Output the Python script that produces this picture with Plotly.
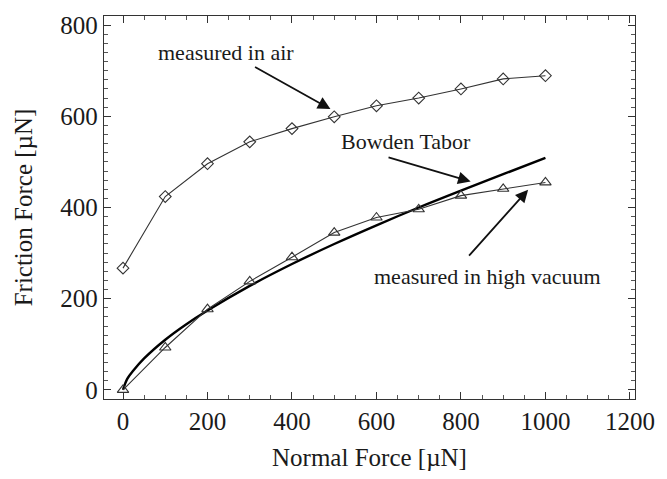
import plotly.graph_objects as go

# Normal force steps [µN]
normal_force = [0, 100, 200, 300, 400, 500, 600, 700, 800, 900, 1000]

# Friction force measured in air [µN]
friction_air = [267, 424, 496, 544, 573, 599, 623, 640, 660, 682, 689]

# Friction force measured in high vacuum [µN]
friction_vacuum = [0, 93, 177, 238, 291, 345, 378, 396, 426, 441, 455]

# Bowden–Tabor prediction [µN]
bt_force = [0, 10, 25, 50, 100, 150, 200, 300, 400, 500, 600, 700, 800, 900, 1000]
bt_friction = [0, 24, 43, 69, 110, 144, 174, 228, 276, 320, 361, 400, 437, 473, 509]

FONT = "Liberation Serif, Times New Roman, serif"
INK = "#1a1a1a"

fig = go.Figure()

fig.add_trace(go.Scatter(
    x=bt_force, y=bt_friction, mode="lines",
    line=dict(color="#000000", width=2.4, shape="spline"),
    showlegend=False,
))
fig.add_trace(go.Scatter(
    x=normal_force, y=friction_air, mode="lines+markers",
    line=dict(color="#333333", width=1.1),
    marker=dict(symbol="diamond-open", size=9, color="#333333", line=dict(width=1.1)),
    showlegend=False,
))
fig.add_trace(go.Scatter(
    x=normal_force, y=friction_vacuum, mode="lines+markers",
    line=dict(color="#333333", width=1.1),
    marker=dict(symbol="triangle-up-open", size=10, color="#333333", line=dict(width=1.1)),
    showlegend=False,
))

arrow = dict(xref="x", yref="y", axref="x", ayref="y", showarrow=True,
             arrowhead=2, arrowsize=1.4, arrowwidth=1.8, arrowcolor="#111111",
             text="")
fig.add_annotation(x=491, y=616, ax=309, ay=710, **arrow)
fig.add_annotation(x=823, y=457, ax=625, ay=511, **arrow)
fig.add_annotation(x=959, y=439, ax=816, ay=291, **arrow)

label = dict(xref="x", yref="y", showarrow=False, font=dict(family=FONT, size=22, color=INK))
fig.add_annotation(x=243, y=741, text="measured in air", **label)
fig.add_annotation(x=671, y=544, text="Bowden Tabor", **label)
fig.add_annotation(x=863, y=249, text="measured in high vacuum", **label)

axis_common = dict(
    showgrid=False, zeroline=False, showline=True, linecolor="#333333", linewidth=1.3,
    mirror="allticks", ticks="inside", ticklen=7, tickwidth=1.1, tickcolor="#333333",
    tickfont=dict(family=FONT, size=25, color=INK),
)

fig.update_xaxes(
    range=[-45, 1212], tickvals=[0, 200, 400, 600, 800, 1000, 1200],
    minor=dict(dtick=50, tick0=0, ticks="inside", ticklen=4, tickcolor="#555555", showgrid=False),
    title=dict(text="Normal Force [µN]", font=dict(family=FONT, size=25, color=INK), standoff=14),
    **axis_common,
)
fig.update_yaxes(
    range=[-20, 820], tickvals=[0, 200, 400, 600, 800],
    minor=dict(dtick=20, tick0=0, ticks="inside", ticklen=4, tickcolor="#555555", showgrid=False),
    title=dict(text="Friction Force [µN]", font=dict(family=FONT, size=25, color=INK), standoff=20),
    **axis_common,
)

fig.update_layout(
    width=667, height=479,
    margin=dict(l=104, r=25, t=16, b=79),
    plot_bgcolor="white", paper_bgcolor="white",
)

fig.write_html("out.html")
